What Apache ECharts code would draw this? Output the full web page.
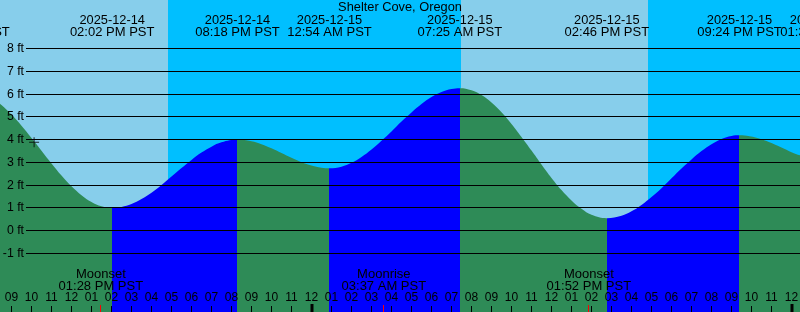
<!DOCTYPE html>
<html>
<head>
<meta charset="utf-8">
<script src="https://cdn.jsdelivr.net/npm/echarts@6/dist/echarts.min.js"></script>
<style>html,body{margin:0;padding:0;background:#87CEEB;}#chart{width:800px;height:312px;}</style>
</head>
<body>
<div id="chart"></div>
<script>
// ---- data (hours since 2025-12-14 00:00 PST) ----
const tideHours = [8, 8.5, 9, 9.5, 10, 10.5, 11, 11.5, 12, 12.5, 13, 13.5, 14.033,
  14.5, 15, 15.5, 16, 16.5, 17, 17.5, 18, 18.5, 19, 19.5, 20.3,
  21, 21.5, 22, 22.5, 23, 23.5, 24, 24.5, 24.9,
  25.5, 26, 26.5, 27, 27.5, 28, 28.5, 29, 29.5, 30, 30.5, 31, 31.417,
  32, 32.5, 33, 33.5, 34, 34.5, 35, 35.5, 36, 36.5, 37, 37.5, 38, 38.767,
  39.5, 40, 40.5, 41, 41.5, 42, 42.5, 43, 43.5, 44, 44.5, 45, 45.4,
  45.9, 46.5, 47, 47.5, 48, 48.5, 49];
const tideFeet = [5.85, 5.52, 5.10, 4.61, 4.07, 3.51, 2.95, 2.42, 1.95, 1.56, 1.26, 1.07, 1.00,
  1.04, 1.17, 1.39, 1.67, 2.01, 2.38, 2.75, 3.11, 3.43, 3.69, 3.88, 4.00,
  3.93, 3.80, 3.62, 3.41, 3.20, 3.01, 2.86, 2.76, 2.74,
  2.81, 2.98, 3.24, 3.57, 3.95, 4.36, 4.79, 5.19, 5.56, 5.87, 6.09, 6.22, 6.26,
  6.17, 5.96, 5.63, 5.20, 4.69, 4.12, 3.52, 2.91, 2.32, 1.79, 1.33, 0.96, 0.70, 0.55,
  0.66, 0.85, 1.13, 1.48, 1.87, 2.30, 2.73, 3.13, 3.50, 3.80, 4.03, 4.16, 4.19,
  4.15, 4.02, 3.85, 3.65, 3.45, 3.29, 3.18];

const extremeHours = [6.8, 14.033, 20.3, 24.9, 31.417, 38.767, 45.4, 49.55];
const extremeFeet = [6.2, 1.0, 4.0, 2.74, 6.26, 0.55, 4.19, 3.13];
const extremeDates = ['2025-12-14', '2025-12-14', '2025-12-14', '2025-12-15', '2025-12-15', '2025-12-15', '2025-12-15', '2025-12-16'];
const extremeTimes = ['06:48 AM PST', '02:02 PM PST', '08:18 PM PST', '12:54 AM PST', '07:25 AM PST', '02:46 PM PST', '09:24 PM PST', '01:33 AM PST'];

const moonHours = [13.467, 27.617, 37.867];
const moonNames = ['Moonset', 'Moonrise', 'Moonset'];
const moonTimes = ['01:28 PM PST', '03:37 AM PST', '01:52 PM PST'];

const nightStarts = [16.825, 40.825];
const nightEnds = [31.475, 56];

const hourTicks = [9, 10, 11, 12, 13, 14, 15, 16, 17, 18, 19, 20, 21, 22, 23, 24, 25, 26, 27, 28,
  29, 30, 31, 32, 33, 34, 35, 36, 37, 38, 39, 40, 41, 42, 43, 44, 45, 46, 47, 48];
const hourTickLabels = ['09', '10', '11', '12', '01', '02', '03', '04', '05', '06', '07', '08', '09', '10', '11', '12', '01', '02', '03', '04',
  '05', '06', '07', '08', '09', '10', '11', '12', '01', '02', '03', '04', '05', '06', '07', '08', '09', '10', '11', '12'];
const midnightTicks = [24, 48];
const feetTicks = [-1, 0, 1, 2, 3, 4, 5, 6, 7, 8];
const feetTickLabels = ['-1 ft', '0 ft', '1 ft', '2 ft', '3 ft', '4 ft', '5 ft', '6 ft', '7 ft', '8 ft'];

const nowHour = [10.13];
const nowFeet = [3.88];

const titleText = 'Shelter Cove, Oregon';

// ---- chart ----
const XMIN = 8.425, XMAX = 48.425;
const YMIN = -3.568, YMAX = 10.129;
const FONT = 'Liberation Sans';
const GREEN = '#2E8B57', BLUE = '#0000FF';
const H = 312;

const pieces = [{ lt: extremeHours[0], color: GREEN }];
for (let i = 0; i < extremeHours.length - 1; i++) {
  pieces.push({ gte: extremeHours[i], lt: extremeHours[i + 1], color: extremeFeet[i + 1] > extremeFeet[i] ? BLUE : GREEN });
}
pieces.push({ gte: extremeHours[extremeHours.length - 1], color: GREEN });

function txt(x, y, s, size, align) {
  return { type: 'text', x: x, y: y, style: { text: s, align: align || 'center', verticalAlign: 'middle', fontFamily: FONT, fontSize: size, fill: '#000' } };
}
function crisp(v) { return Math.round(v - 0.5) + 0.5; }

const chart = echarts.init(document.getElementById('chart'));
chart.setOption({
  backgroundColor: '#87CEEB',
  animation: false,
  title: { text: titleText, left: 'center', top: 0.5, padding: 0, textStyle: { fontFamily: FONT, fontSize: 12.8, fontWeight: 'normal', color: '#000' } },
  grid: { left: 0, right: 0, top: 0, bottom: 0 },
  xAxis: { type: 'value', min: XMIN, max: XMAX, show: false },
  yAxis: { type: 'value', min: YMIN, max: YMAX, show: false },
  visualMap: { type: 'piecewise', show: false, dimension: 0, seriesIndex: 1, pieces: pieces },
  series: [
    {
      type: 'line', data: [], z: 0, silent: true,
      markArea: {
        silent: true,
        itemStyle: { color: '#00BFFF', opacity: 1 },
        data: nightStarts.map((s, i) => [{ xAxis: s }, { xAxis: nightEnds[i] }])
      }
    },
    {
      type: 'line', z: 2, smooth: 0.4, symbol: 'none', silent: true,
      data: tideHours.map((h, i) => [h, tideFeet[i]]),
      lineStyle: { width: 0 },
      areaStyle: { opacity: 1, origin: 'start' }
    },
    {
      // horizontal foot lines and labels
      type: 'custom', z: 5, silent: true,
      data: feetTicks.map((v, i) => [XMIN, v, i]),
      renderItem: function (params, api) {
        const y = Math.floor(api.coord([XMIN, api.value(1)])[1]) + 0.5;
        return {
          type: 'group', children: [
            { type: 'line', shape: { x1: 26, y1: y, x2: 800, y2: y }, style: { stroke: '#000', lineWidth: 1 } },
            txt(24, y, feetTickLabels[params.dataIndex], 12.3, 'right')
          ]
        };
      }
    },
    {
      // hour ticks and labels
      type: 'custom', z: 6, silent: true,
      data: hourTicks.map((h, i) => [h, 0, i]),
      renderItem: function (params, api) {
        const x = api.coord([api.value(0), 0])[0];
        const mid = midnightTicks.indexOf(api.value(0)) >= 0;
        const tick = mid
          ? { type: 'rect', shape: { x: Math.round(x) - 1.5, y: H - 8, width: 3, height: 8 }, style: { fill: '#000' } }
          : { type: 'line', shape: { x1: crisp(x), y1: H - 6, x2: crisp(x), y2: H }, style: { stroke: '#000', lineWidth: 1 } };
        return { type: 'group', children: [tick, txt(x, 298, hourTickLabels[params.dataIndex], 12)] };
      }
    },
    {
      // tide extreme labels
      type: 'custom', z: 6, silent: true,
      data: extremeHours.map((h, i) => [h, 0, i]),
      renderItem: function (params, api) {
        const i = params.dataIndex;
        const x = api.coord([api.value(0), 0])[0];
        return { type: 'group', children: [txt(x, 20, extremeDates[i], 12.8), txt(x, 32, extremeTimes[i], 13)] };
      }
    },
    {
      // moon events: labels and red ticks
      type: 'custom', z: 6, silent: true,
      data: moonHours.map((h, i) => [h, 0, i]),
      renderItem: function (params, api) {
        const i = params.dataIndex;
        const x = api.coord([api.value(0), 0])[0];
        return {
          type: 'group', children: [
            txt(x, 274, moonNames[i], 13),
            txt(x, 286, moonTimes[i], 13),
            { type: 'line', shape: { x1: crisp(x), y1: H - 7, x2: crisp(x), y2: H }, style: { stroke: '#FF0000', lineWidth: 1 } }
          ]
        };
      }
    },
    {
      type: 'scatter', z: 7, silent: true,
      data: nowHour.map((h, i) => [h, nowFeet[i]]),
      symbol: 'path://M0,4.5h10v1h-10zM4.5,0h1v10h-1z',
      symbolSize: 10,
      itemStyle: { color: '#000' }
    }
  ]
});
</script>
</body>
</html>
